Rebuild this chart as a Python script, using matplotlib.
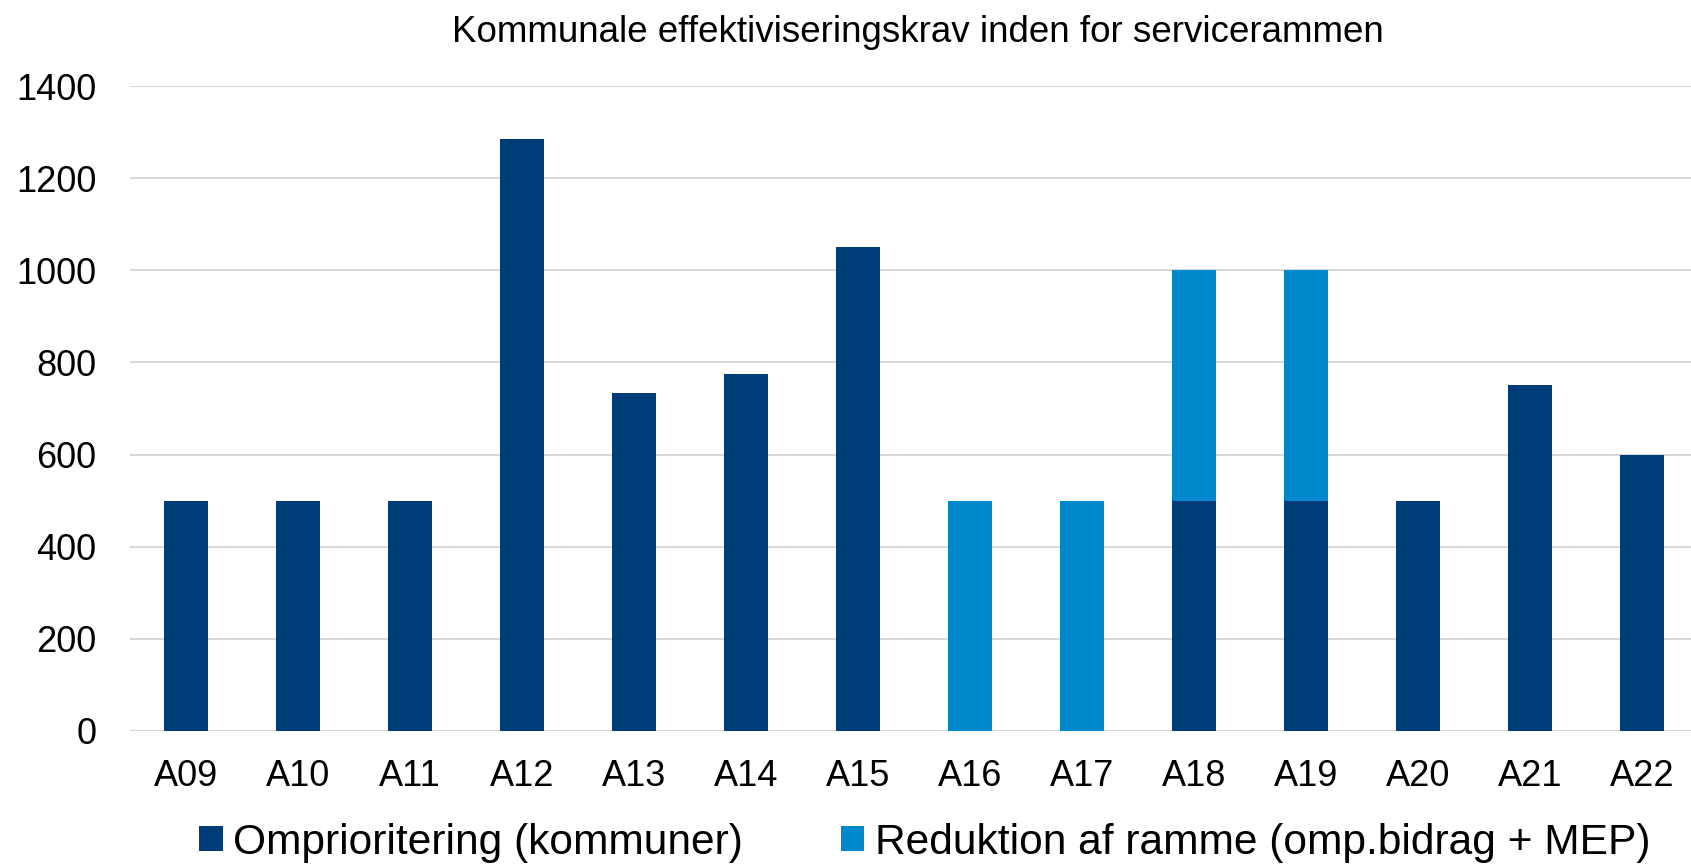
import matplotlib.pyplot as plt
import numpy as np

plt.rcParams['font.family'] = ['Liberation Sans', 'DejaVu Sans']

years = ['A09', 'A10', 'A11', 'A12', 'A13', 'A14', 'A15',
         'A16', 'A17', 'A18', 'A19', 'A20', 'A21', 'A22']
omprioritering = [500, 500, 500, 1285, 733, 775, 1050, 0, 0, 500, 500, 500, 750, 600]
reduktion = [0, 0, 0, 0, 0, 0, 0, 500, 500, 500, 500, 0, 0, 0]

dark = '#003C78'
light = '#0088CC'

fig = plt.figure(figsize=(16.91, 8.67), dpi=100)
ax = fig.add_axes([130 / 1691, (867 - 731) / 867, 1568 / 1691, (731 - 86) / 867])

x = np.arange(len(years))
ax.bar(x, omprioritering, width=0.4, color=dark, label='Omprioritering (kommuner)', zorder=3)
ax.bar(x, reduktion, width=0.4, bottom=omprioritering, color=light,
       label='Reduktion af ramme (omp.bidrag + MEP)', zorder=3)

ax.set_xlim(-0.5, len(years) - 0.5)
ax.set_ylim(0, 1400)
ax.set_yticks(range(0, 1401, 200))
ax.set_xticks(x)
ax.set_xticklabels(years)
ax.tick_params(axis='both', length=0, labelsize=26)
ax.tick_params(axis='y', pad=24)
ax.tick_params(axis='x', pad=20)
ax.grid(axis='y', color='#D9D9D9', linewidth=1.5, zorder=0)
for s in ax.spines.values():
    s.set_visible(False)

fig.text(0.543, 0.962, 'Kommunale effektiviseringskrav inden for servicerammen',
         ha='center', va='center', fontsize=26.5)

fig.legend(loc='center', bbox_to_anchor=(0.547, 0.028), ncol=2, frameon=False,
           fontsize=30.6, handlelength=0.55, handleheight=0.55, handletextpad=0.25,
           columnspacing=2.3)

fig.savefig('out.png', dpi=100)
